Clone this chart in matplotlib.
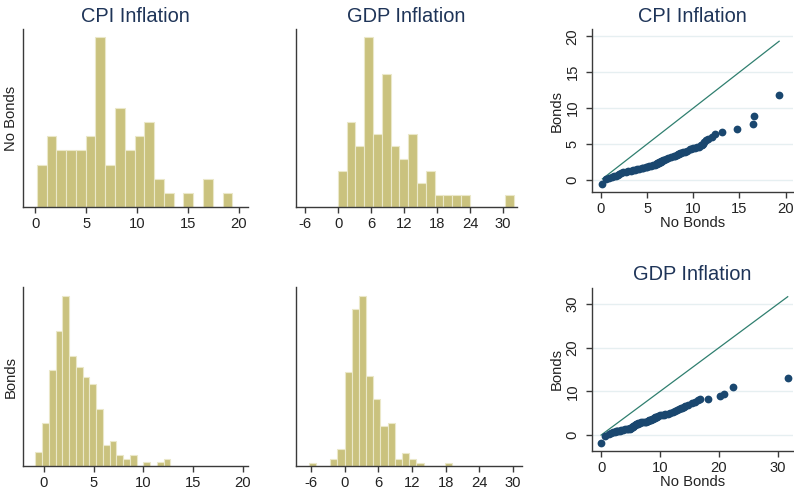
import matplotlib
matplotlib.use("Agg")
import matplotlib.pyplot as plt
import numpy as np

plt.rcParams['font.family'] = ['Liberation Sans', 'DejaVu Sans']
plt.rcParams['axes.unicode_minus'] = False

# ---------------- data ----------------
titles = ["CPI Inflation", "GDP Inflation"]
row_labels = ["No Bonds", "Bonds"]

# histograms: first bin edge, bin width, counts per bin
cpi_nobonds_start, cpi_nobonds_width = 0.16, 0.96
cpi_nobonds_counts = [3, 5, 4, 4, 4, 5, 12, 3, 7, 4, 5, 6, 2, 1, 0, 1, 0, 2, 0, 1]

gdp_nobonds_start, gdp_nobonds_width = -0.05, 1.6
gdp_nobonds_counts = [3, 7, 5, 14, 6, 11, 5, 4, 6, 2, 3, 1, 1, 1, 1, 0, 0, 0, 0, 1]

cpi_bonds_start, cpi_bonds_width = -0.85, 0.678
cpi_bonds_counts = [4, 12, 27, 38, 48, 31, 28, 25, 23, 16, 6, 7, 3, 2, 3, 0, 1, 0, 1, 2]

gdp_bonds_start, gdp_bonds_width = -6.42, 1.28
gdp_bonds_counts = [1, 0, 0, 2, 5, 28, 47, 51, 27, 20, 12, 13, 2, 4, 2, 1, 0, 0, 0, 1]

cpi_ticks = [0, 5, 10, 15, 20]
gdp_ticks = [-6, 0, 6, 12, 18, 24, 30]

# Q-Q plots: sorted No Bonds values vs matching Bonds quantiles
cpi_qq_nobonds = [0.16, 0.55, 0.85, 1.2, 1.4, 1.6, 1.8, 2.0, 2.2, 2.4, 2.7, 2.9,
                  3.2, 3.5, 3.7, 3.9, 4.1, 4.4, 4.6, 4.85, 5.0, 5.2, 5.4, 5.6, 5.8,
                  6.0, 6.05, 6.1, 6.2, 6.25, 6.3, 6.4, 6.5, 6.55, 6.6, 6.7, 6.8,
                  7.0, 7.3, 7.6, 7.9, 8.0, 8.2, 8.3, 8.4, 8.6, 8.7, 8.9, 9.1, 9.3, 9.6,
                  9.8, 10.0, 10.2, 10.4, 10.6, 10.8, 10.9, 11.0, 11.2, 11.4, 11.6,
                  12.0, 12.3, 13.1, 14.7, 16.5, 16.55, 19.3]
cpi_qq_bonds = [-0.5, 0.15, 0.3, 0.42, 0.5, 0.6, 0.75, 0.9, 1.0, 1.08, 1.15, 1.2,
                1.3, 1.4, 1.45, 1.5, 1.58, 1.66, 1.72, 1.8, 1.85, 1.9, 1.95, 2.02, 2.1,
                2.2, 2.25, 2.3, 2.35, 2.4, 2.45, 2.5, 2.55, 2.6, 2.65, 2.75, 2.85,
                2.95, 3.1, 3.25, 3.35, 3.4, 3.5, 3.55, 3.6, 3.7, 3.75, 3.85, 3.95, 4.1, 4.25,
                4.3, 4.4, 4.45, 4.55, 4.65, 4.8, 4.9, 5.0, 5.25, 5.5, 5.7,
                6.0, 6.4, 6.65, 7.05, 7.75, 8.95, 11.8]

gdp_qq_nobonds = [-0.05, 0.6, 1.3, 1.7, 2.0, 2.3, 2.5, 2.7, 2.9, 3.1,
                  3.4, 3.7, 4.0, 4.3, 4.6,
                  4.8, 4.9, 5.0, 5.1, 5.2, 5.3, 5.45, 5.6, 5.7, 5.8, 5.9, 6.0, 6.15, 6.3,
                  6.5, 6.8, 7.1, 7.4, 7.6, 7.9,
                  8.0, 8.15, 8.3, 8.45, 8.6, 8.75, 8.9, 9.05, 9.2, 9.35, 9.5,
                  9.7, 10.0, 10.3, 10.6, 10.9,
                  11.3, 11.7, 12.1, 12.5,
                  12.9, 13.2, 13.5, 13.7, 14.0, 14.2,
                  14.8, 15.4, 16.0, 16.4, 16.7, 18.2, 20.2, 20.8, 22.4, 31.7]
gdp_qq_bonds = [-1.75, -0.3, 0.25, 0.45, 0.6, 0.7, 0.8, 0.9, 0.95, 1.0,
                1.1, 1.2, 1.3, 1.35, 1.4,
                1.45, 1.5, 1.55, 1.6, 1.7, 1.8, 1.95, 2.1, 2.2, 2.3, 2.4, 2.5, 2.6, 2.7,
                2.8, 2.85, 2.9, 3.0, 3.05, 3.15,
                3.2, 3.3, 3.4, 3.5, 3.6, 3.7, 3.8, 3.9, 4.0, 4.1, 4.2,
                4.3, 4.45, 4.55, 4.65, 4.8,
                4.9, 5.05, 5.15, 5.4,
                5.75, 5.95, 6.1, 6.25, 6.45, 6.6,
                6.9, 7.25, 7.6, 7.9, 8.2, 8.3, 8.85, 9.4, 11.05, 13.0]
cpi_qq_ticks = [0, 5, 10, 15, 20]
gdp_qq_ticks = [0, 10, 20, 30]

# ---------------- style ----------------
W, H = 794, 495
BAR = '#cac27e'
BAR_EDGE = '#ebe8c9'
AXC = '#3a3a3a'
TITLE_C = '#1e3458'
TXT = '#222222'
NAVY = '#1a476f'
LINE_C = '#2f7f6f'
GRID_C = '#e6eff1'
TICK_FS = 10.6
TITLE_FS = 14.4

fig = plt.figure(figsize=(W / 100, H / 100), dpi=100)
fig.patch.set_facecolor('white')


def rect(l, r, t, b):
    return [l / W, 1 - b / H, (r - l) / W, (b - t) / H]


def style_axes(ax):
    for s in ['top', 'right']:
        ax.spines[s].set_visible(False)
    for s in ['left', 'bottom']:
        ax.spines[s].set_color(AXC)
        ax.spines[s].set_linewidth(1.0)
    ax.tick_params(colors=AXC, labelcolor=TXT, labelsize=TICK_FS, length=4, width=1.0, pad=3)


def hist_panel(r, start, width, counts, ticks, xlim, title=None, ylabel=None):
    ax = fig.add_axes(rect(*r))
    counts = np.asarray(counts)
    edges = start + width * np.arange(len(counts))
    ax.bar(edges, counts, width=width, align='edge', color=BAR,
           edgecolor=BAR_EDGE, linewidth=0.8)
    style_axes(ax)
    ax.set_xlim(*xlim)
    ax.set_ylim(0, counts.max() * 1.05)
    ax.set_xticks(ticks)
    ax.set_yticks([])
    if title:
        ax.set_title(title, fontsize=TITLE_FS, color=TITLE_C, pad=5.4)
    if ylabel:
        ax.set_ylabel(ylabel, fontsize=TICK_FS, color=TXT)
        # right edge of the rotated label ~5 px left of the spine
        ax.yaxis.set_label_coords(-5.0 / (r[1] - r[0]), 0.5)
    return ax


def qq_panel(r, xs, ys, ticks, xlim, ylim, title):
    ax = fig.add_axes(rect(*r))
    style_axes(ax)
    ax.set_xlim(*xlim)
    ax.set_ylim(*ylim)
    ax.set_xticks(ticks)
    ax.set_yticks(ticks)
    ax.grid(axis='y', color=GRID_C, linewidth=1.0)
    ax.set_axisbelow(True)
    lo, hi = min(xs), max(xs)
    ax.plot([lo, hi], [lo, hi], color=LINE_C, linewidth=0.9, zorder=2)
    ax.plot(xs, ys, 'o', color=NAVY, markersize=5.6, markeredgewidth=0, zorder=3)
    for lab in ax.get_yticklabels():
        lab.set_rotation(90)
        lab.set_va('center')
    ax.tick_params(axis='y', pad=5)
    ax.set_title(title, fontsize=TITLE_FS, color=TITLE_C, pad=5.4)
    ax.set_xlabel('No Bonds', fontsize=TICK_FS, color=TXT, labelpad=0)
    ax.set_ylabel('Bonds', fontsize=TICK_FS, color=TXT)
    ax.yaxis.set_label_coords(-28.0 / (r[1] - r[0]), 0.5)
    return ax


hist_panel((23, 248, 29, 207), cpi_nobonds_start, cpi_nobonds_width, cpi_nobonds_counts,
           cpi_ticks, (-1.2, 20.9), title=titles[0], ylabel=row_labels[0])
hist_panel((296, 517, 29, 207), gdp_nobonds_start, gdp_nobonds_width, gdp_nobonds_counts,
           gdp_ticks, (-7.64, 32.5), title=titles[1])
hist_panel((23, 248, 287, 466), cpi_bonds_start, cpi_bonds_width, cpi_bonds_counts,
           cpi_ticks, (-2.1, 20.5), ylabel=row_labels[1])
hist_panel((296, 522, 287, 466), gdp_bonds_start, gdp_bonds_width, gdp_bonds_counts,
           gdp_ticks, (-8.67, 31.6))

qq_panel((592, 793, 29, 192), cpi_qq_nobonds, cpi_qq_bonds, cpi_qq_ticks,
         (-0.97, 20.8), (-1.67, 21.0), titles[0])
qq_panel((592, 793, 288, 451), gdp_qq_nobonds, gdp_qq_bonds, gdp_qq_ticks,
         (-1.6, 32.6), (-3.7, 33.7), titles[1])

fig.savefig('out.png', dpi=100, facecolor='white')
